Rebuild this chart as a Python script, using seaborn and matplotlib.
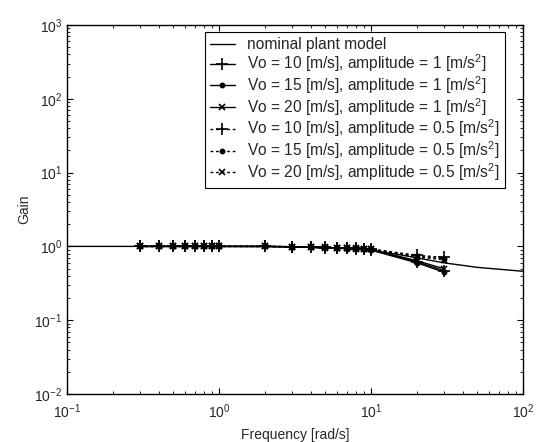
import matplotlib
matplotlib.use("Agg")
import matplotlib.pyplot as plt
import seaborn as sns
import numpy as np
import pandas as pd

# nominal plant model
nom_freq = [0.1, 0.5, 1, 2, 3, 4, 5, 7, 10, 15, 20, 30, 50, 70, 100]
nom_gain = [1.0, 1.0, 1.0, 0.995, 0.99, 0.98, 0.97, 0.94, 0.88, 0.78, 0.70, 0.60, 0.52, 0.49, 0.46]

# experimental points
exp_freq = [0.3, 0.4, 0.5, 0.6, 0.7, 0.8, 0.9, 1.0, 2, 3, 4, 5, 6, 7, 8, 9, 10, 20, 30]
g_v10_a1 = [1.0, 1.0, 1.0, 1.0, 1.0, 1.0, 1.0, 1.0, 1.0, 0.99, 0.97, 0.96, 0.95, 0.94, 0.93, 0.92, 0.90, 0.62, 0.47]
g_v15_a1 = [1.0, 1.0, 1.0, 1.0, 1.0, 1.0, 1.0, 1.0, 1.0, 0.98, 0.97, 0.95, 0.94, 0.93, 0.92, 0.91, 0.89, 0.60, 0.45]
g_v20_a1 = [1.0, 1.0, 1.0, 1.0, 1.0, 1.0, 1.0, 1.0, 1.0, 0.99, 0.97, 0.96, 0.95, 0.94, 0.93, 0.92, 0.91, 0.64, 0.50]
g_v10_a05 = [1.0, 1.0, 1.0, 1.0, 1.0, 1.0, 1.0, 1.0, 1.0, 0.99, 0.98, 0.97, 0.96, 0.95, 0.94, 0.93, 0.92, 0.76, 0.71]
g_v15_a05 = [1.0, 1.0, 1.0, 1.0, 1.0, 1.0, 1.0, 1.0, 1.0, 0.99, 0.98, 0.97, 0.96, 0.95, 0.94, 0.93, 0.92, 0.74, 0.68]
g_v20_a05 = [1.0, 1.0, 1.0, 1.0, 1.0, 1.0, 1.0, 1.0, 1.0, 0.99, 0.98, 0.97, 0.96, 0.95, 0.94, 0.93, 0.92, 0.72, 0.66]

labels = [
    "Vo = 10 [m/s], amplitude = 1 [m/s$^2$]",
    "Vo = 15 [m/s], amplitude = 1 [m/s$^2$]",
    "Vo = 20 [m/s], amplitude = 1 [m/s$^2$]",
    "Vo = 10 [m/s], amplitude = 0.5 [m/s$^2$]",
    "Vo = 15 [m/s], amplitude = 0.5 [m/s$^2$]",
    "Vo = 20 [m/s], amplitude = 0.5 [m/s$^2$]",
]
series = [g_v10_a1, g_v15_a1, g_v20_a1, g_v10_a05, g_v15_a05, g_v20_a05]

sns.set_style("ticks")
plt.rcParams['font.family'] = ['Liberation Sans', 'DejaVu Sans']
plt.rcParams['mathtext.fontset'] = 'custom'
plt.rcParams['mathtext.rm'] = 'Liberation Sans'
plt.rcParams['mathtext.it'] = 'Liberation Sans'

fig = plt.figure(figsize=(5.36, 4.42), dpi=100)
ax = fig.add_axes([67/536, 48/442, 456/536, 369/442])

sns.lineplot(x=nom_freq, y=nom_gain, ax=ax, color='black', lw=1.0, label="nominal plant model")

markers = ['+', '.', 'x', '+', '.', 'x']
styles = ['-', '-', '-', (0, (2, 2)), (0, (2, 2)), (0, (2, 2))]
msizes = [8, 6, 5, 8, 6, 5]
for vals, lab, mk, ls, ms in zip(series, labels, markers, styles, msizes):
    sns.lineplot(x=exp_freq, y=vals, ax=ax, color='black', lw=1.0, marker=mk,
                 markersize=ms, markeredgecolor='black', markerfacecolor='black',
                 markeredgewidth=1.2, linestyle=ls, label=lab)

ax.set_xscale('log')
ax.set_yscale('log')
ax.set_xlim(0.1, 100)
ax.set_ylim(0.01, 1000)
ax.set_xlabel("Frequency [rad/s]", fontsize=10, labelpad=5)
ax.set_ylabel("Gain", fontsize=10, labelpad=2)
ax.tick_params(which='both', direction='in', top=True, right=True, labelsize=10, color='black')
ax.tick_params(which='major', length=4)
ax.tick_params(which='minor', length=2)
ax.tick_params(axis='x', pad=6)
for s in ax.spines.values():
    s.set_color('black')
    s.set_linewidth(1.0)

leg = ax.legend(loc='upper right', bbox_to_anchor=((505 - 67) / 456, (394 - 32) / 369),
                fontsize=11.2, frameon=True, fancybox=False,
                edgecolor='black', framealpha=1, handlelength=1.6, labelspacing=0.0,
                borderaxespad=0.0, handletextpad=0.8, borderpad=0.35)
leg.get_frame().set_linewidth(0.8)

fig.savefig("out.png", dpi=100)
